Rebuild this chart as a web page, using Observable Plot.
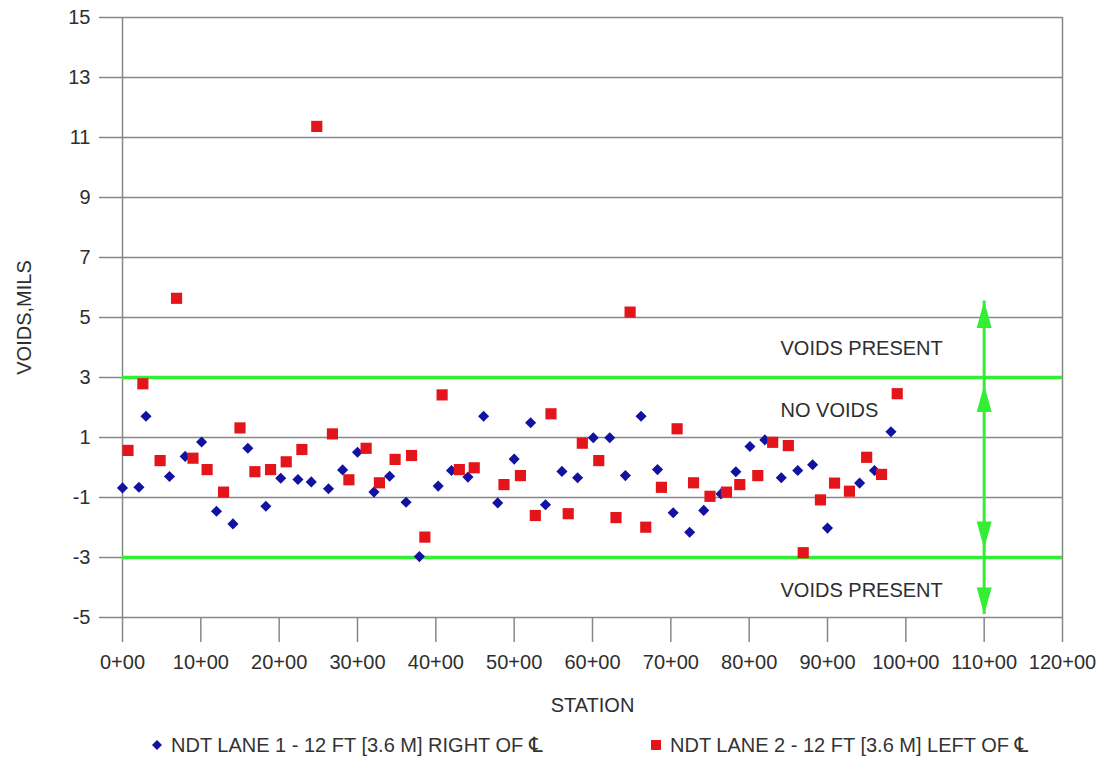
<!DOCTYPE html>
<html>
<head>
<meta charset="utf-8">
<script src="https://cdn.jsdelivr.net/npm/d3@7"></script>
<script src="https://cdn.jsdelivr.net/npm/@observablehq/plot@0.6"></script>
<style>
  html, body { margin: 0; padding: 0; background: #fff; }
  body { width: 1101px; height: 761px; overflow: hidden; font-family: "Liberation Sans", Arial, sans-serif; }
  #legend { position: relative; height: 36px; color: #333; font-size: 20px; }
  .item { position: absolute; top: 2px; line-height: 36px; white-space: nowrap; }
  .sym { display: inline-block; vertical-align: middle; margin-right: 8px; position: relative; top: -2px; }
  .cl { font-family: "DejaVu Sans", sans-serif; font-size: 21px; }
</style>
</head>
<body>
<div id="chart"></div>
<div id="legend"></div>
<script>
// ---- data ----
const lane1Label = "NDT LANE 1 - 12 FT [3.6 M] RIGHT OF ";
const lane2Label = "NDT LANE 2 - 12 FT [3.6 M] LEFT OF ";
const centerlineSymbol = "\u2104";

const lane1Station = [0, 2.1, 3.0, 6.0, 8.0, 10.1, 12.0, 14.1, 16.0, 18.3, 20.2, 22.4, 24.1, 26.3, 28.1, 30.0, 32.1, 34.1, 36.2, 37.9, 40.3, 42.0, 44.1, 46.1, 47.9, 50.0, 52.1, 54.0, 56.1, 58.1, 60.1, 62.2, 64.2, 66.2, 68.3, 70.3, 72.4, 74.2, 76.4, 78.3, 80.1, 82.0, 84.1, 86.2, 88.1, 90.0, 94.1, 96.0, 98.1];
const lane1Voids = [-0.68, -0.66, 1.71, -0.3, 0.37, 0.85, -1.46, -1.88, 0.64, -1.29, -0.36, -0.4, -0.48, -0.71, -0.08, 0.51, -0.82, -0.29, -1.16, -2.97, -0.62, -0.1, -0.32, 1.71, -1.18, 0.28, 1.49, -1.24, -0.13, -0.34, 0.99, 0.99, -0.27, 1.71, -0.07, -1.51, -2.16, -1.43, -0.88, -0.14, 0.7, 0.92, -0.34, -0.1, 0.09, -2.02, -0.52, -0.1, 1.19];

const lane2Station = [0.7, 2.6, 4.8, 6.9, 9.0, 10.8, 12.9, 15.0, 16.9, 18.9, 20.9, 22.9, 24.8, 26.8, 28.9, 31.1, 32.8, 34.8, 36.9, 38.6, 40.8, 43.0, 44.9, 48.7, 50.8, 52.7, 54.7, 56.9, 58.7, 60.8, 63.0, 64.8, 66.8, 68.8, 70.8, 72.9, 75.0, 77.1, 78.8, 81.1, 83.0, 85.0, 86.9, 89.1, 90.9, 92.8, 95.0, 96.9, 98.9];
const lane2Voids = [0.57, 2.79, 0.23, 5.64, 0.31, -0.07, -0.82, 1.32, -0.14, -0.07, 0.19, 0.6, 11.37, 1.12, -0.41, 0.64, -0.51, 0.27, 0.4, -2.32, 2.42, -0.07, -0.01, -0.57, -0.27, -1.6, 1.79, -1.54, 0.81, 0.23, -1.67, 5.18, -1.99, -0.66, 1.29, -0.51, -0.96, -0.82, -0.57, -0.27, 0.84, 0.73, -2.84, -1.08, -0.52, -0.79, 0.34, -0.23, 2.46];

const xTicks = [0, 10, 20, 30, 40, 50, 60, 70, 80, 90, 100, 110, 120];
const yTicks = [-5, -3, -1, 1, 3, 5, 7, 9, 11, 13, 15];
const limitLines = [3, -3];

const zoneLabels = ["VOIDS PRESENT", "NO VOIDS", "VOIDS PRESENT"];
const zoneLabelY = [3.95, 1.9, -4.1];
const zoneLabelStation = 84;

const arrowStation = 110;
const arrowTop = 5.55;
const arrowBottom = -4.9;
const arrowTips = [5.55, 2.75, -2.7, -4.9];
const arrowRotate = [0, 0, 180, 180];

// ---- build tables ----
const lane1 = lane1Station.map((s, i) => ({station: s, voids: lane1Voids[i]}));
const lane2 = lane2Station.map((s, i) => ({station: s, voids: lane2Voids[i]}));
const zones = zoneLabels.map((t, i) => ({text: t, y: zoneLabelY[i]}));
const heads = arrowTips.map((y, i) => ({y, rotate: arrowRotate[i]}));

const GRID = "#878787";
const GREEN = "#33ee33";
const BLUE = "#1212a0";
const RED = "#e3151a";
const TEXT = "#2e2e2e";

const arrowHead = {
  draw(context, l, r) {
    context.moveTo(-r, 0);
    context.lineTo(0, -l);
    context.lineTo(r, 0);
    context.closePath();
  }
};

const chart = Plot.plot({
  width: 1101,
  height: 725,
  marginLeft: 122,
  marginRight: 39,
  marginTop: 17,
  marginBottom: 108,
  style: {fontFamily: "'Liberation Sans', Arial, sans-serif", fontSize: "20px", color: TEXT, background: "#fff"},
  x: {domain: [0, 120]},
  y: {domain: [-5, 15]},
  marks: [
    Plot.ruleY(yTicks, {stroke: GRID, strokeWidth: 1.5}),
    Plot.ruleX([0, 120], {stroke: GRID, strokeWidth: 1.5}),
    Plot.axisY(yTicks, {
      tickSize: 23, tickPadding: 9, stroke: GRID, strokeWidth: 1.5, fill: TEXT, fontSize: 20,
      tickFormat: d => `${d}`,
      label: "VOIDS,MILS", labelAnchor: "center", labelArrow: "none", labelOffset: 106
    }),
    Plot.axisX(xTicks, {
      tickSize: 25, tickPadding: 12, stroke: GRID, strokeWidth: 1.5, fill: TEXT, fontSize: 20,
      tickFormat: d => `${d}+00`,
      label: "STATION", labelAnchor: "center", labelArrow: "none", labelOffset: 94
    }),
    Plot.ruleY(limitLines, {stroke: GREEN, strokeWidth: 3.5}),
    Plot.ruleX([arrowStation], {y1: arrowTop, y2: arrowBottom, stroke: GREEN, strokeWidth: 3}),
    Plot.vector(heads, {x: arrowStation, y: "y", rotate: "rotate", length: 27, r: 7.5, shape: arrowHead, anchor: "end", fill: GREEN, stroke: "none"}),
    Plot.text(zones, {x: zoneLabelStation, y: "y", text: "text", textAnchor: "start", fontSize: 20, fill: TEXT}),
    Plot.dot(lane1, {x: "station", y: "voids", symbol: "diamond2", r: 5, fill: BLUE, stroke: "none"}),
    Plot.dot(lane2, {x: "station", y: "voids", symbol: "square", r: 6.3, fill: RED, stroke: "none"})
  ]
});
document.getElementById("chart").appendChild(chart);

// ---- legend ----
const legend = document.getElementById("legend");
function addItem(left, symbolHtml, label) {
  const d = document.createElement("div");
  d.className = "item";
  d.style.left = left + "px";
  d.innerHTML = symbolHtml + label + `<span class="cl">${centerlineSymbol}</span>`;
  legend.appendChild(d);
}
addItem(151, `<svg class="sym" width="12" height="12"><path d="M6,1L11,6L6,11L1,6Z" fill="${BLUE}"/></svg>`, lane1Label);
addItem(650, `<svg class="sym" width="12" height="12"><rect x="1" y="1" width="10" height="10" fill="${RED}"/></svg>`, lane2Label);
</script>
</body>
</html>
